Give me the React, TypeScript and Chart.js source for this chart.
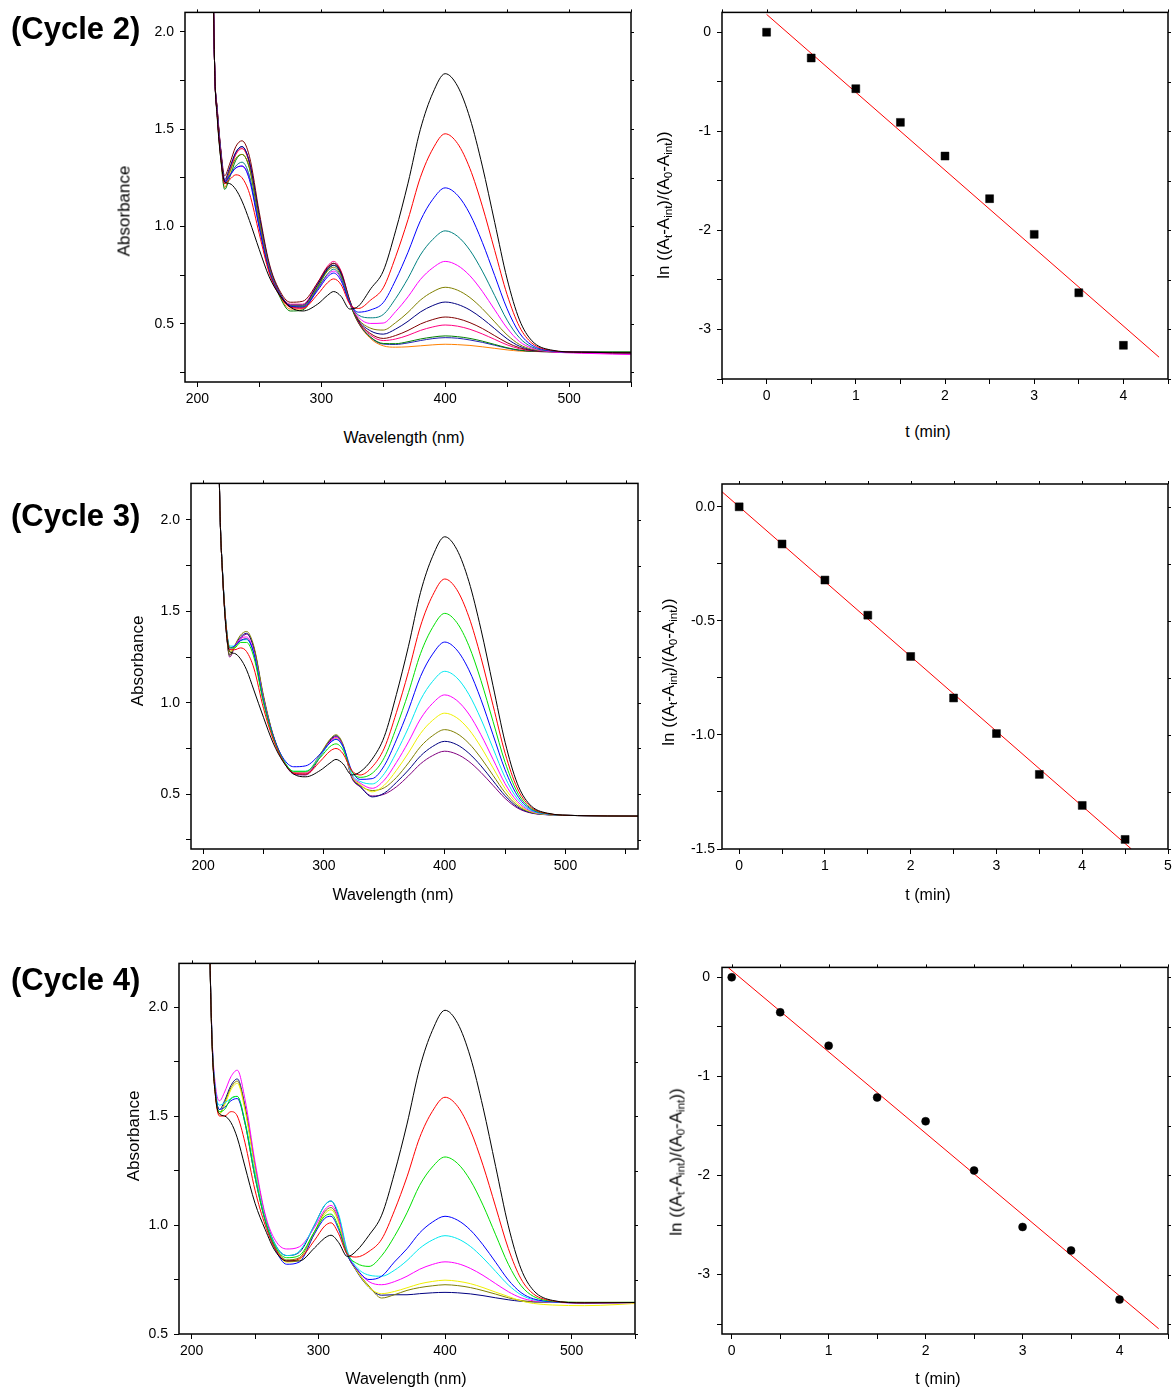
import React, { useEffect, useRef } from 'react';
import { Chart, registerables } from 'chart.js';

Chart.register(...registerables);

const FONT = '"Liberation Sans", Arial, Helvetica, sans-serif';

// ---------- Spectra data (wavelength grid shared by all cycles) ----------
const wavelengths = [211, 214, 216, 219, 222, 226, 231, 236, 242, 250, 258, 266, 275, 285, 297, 305, 310, 316, 323, 330, 340, 350, 360, 370, 380, 390, 400, 410, 420, 430, 440, 450, 460, 470, 485, 510, 560];

// Cycle 2 absorbance curves
const c2Black = [3.0, 1.8, 1.56, 1.34, 1.23, 1.22, 1.19, 1.13, 1.03, 0.88, 0.74, 0.65, 0.585, 0.565, 0.60, 0.645, 0.665, 0.64, 0.575, 0.59, 0.68, 0.77, 0.977, 1.222, 1.499, 1.685, 1.785, 1.721, 1.556, 1.31, 1.02, 0.73, 0.519, 0.412, 0.365, 0.353, 0.35];
const c2Red = [3.0, 1.8, 1.57, 1.35, 1.22, 1.24, 1.265, 1.25, 1.17, 0.96, 0.76, 0.65, 0.585, 0.58, 0.65, 0.71, 0.73, 0.70, 0.60, 0.578, 0.622, 0.684, 0.844, 1.035, 1.252, 1.398, 1.476, 1.426, 1.297, 1.104, 0.876, 0.649, 0.484, 0.40, 0.363, 0.353, 0.35];
const c2Blue = [3.0, 1.8, 1.58, 1.36, 1.23, 1.26, 1.30, 1.31, 1.24, 0.99, 0.77, 0.655, 0.59, 0.585, 0.67, 0.74, 0.76, 0.72, 0.605, 0.559, 0.571, 0.608, 0.724, 0.867, 1.029, 1.139, 1.198, 1.16, 1.063, 0.918, 0.747, 0.576, 0.452, 0.389, 0.361, 0.353, 0.35];
const c2Teal = [3.0, 1.8, 1.58, 1.36, 1.22, 1.26, 1.31, 1.33, 1.26, 1.0, 0.775, 0.655, 0.59, 0.585, 0.68, 0.755, 0.78, 0.735, 0.61, 0.544, 0.53, 0.547, 0.629, 0.733, 0.853, 0.933, 0.977, 0.949, 0.877, 0.77, 0.644, 0.518, 0.427, 0.38, 0.359, 0.353, 0.35];
const c2Magenta = [3.0, 1.8, 1.58, 1.36, 1.22, 1.26, 1.30, 1.31, 1.25, 1.0, 0.775, 0.655, 0.585, 0.58, 0.675, 0.75, 0.77, 0.73, 0.605, 0.533, 0.501, 0.503, 0.562, 0.638, 0.727, 0.787, 0.82, 0.799, 0.746, 0.666, 0.571, 0.477, 0.408, 0.374, 0.356, 0.348, 0.34];
const c2Olive = [3.0, 1.8, 1.59, 1.37, 1.22, 1.28, 1.35, 1.37, 1.30, 1.03, 0.79, 0.66, 0.59, 0.59, 0.69, 0.77, 0.79, 0.745, 0.61, 0.523, 0.476, 0.467, 0.505, 0.558, 0.621, 0.664, 0.687, 0.672, 0.634, 0.577, 0.509, 0.442, 0.393, 0.368, 0.357, 0.353, 0.35];
const c2Navy = [3.0, 1.8, 1.60, 1.38, 1.24, 1.30, 1.38, 1.41, 1.33, 1.05, 0.80, 0.665, 0.595, 0.595, 0.70, 0.78, 0.80, 0.755, 0.615, 0.518, 0.462, 0.446, 0.472, 0.512, 0.56, 0.593, 0.611, 0.599, 0.57, 0.526, 0.474, 0.422, 0.384, 0.365, 0.357, 0.353, 0.35];
const c2Maroon = [3.0, 1.8, 1.61, 1.39, 1.26, 1.32, 1.41, 1.44, 1.36, 1.07, 0.81, 0.675, 0.61, 0.615, 0.71, 0.79, 0.81, 0.765, 0.62, 0.513, 0.448, 0.424, 0.439, 0.465, 0.498, 0.521, 0.534, 0.526, 0.505, 0.475, 0.438, 0.402, 0.376, 0.362, 0.356, 0.353, 0.35];
const c2Pink = [3.0, 1.8, 1.60, 1.38, 1.23, 1.29, 1.37, 1.40, 1.33, 1.05, 0.80, 0.665, 0.60, 0.60, 0.71, 0.795, 0.82, 0.77, 0.62, 0.51, 0.44, 0.413, 0.421, 0.44, 0.465, 0.483, 0.493, 0.487, 0.471, 0.447, 0.419, 0.391, 0.371, 0.361, 0.356, 0.35, 0.343];
const c2Green = [3.0, 1.8, 1.57, 1.34, 1.19, 1.25, 1.34, 1.37, 1.30, 1.02, 0.78, 0.645, 0.565, 0.57, 0.685, 0.775, 0.80, 0.755, 0.605, 0.506, 0.43, 0.398, 0.397, 0.407, 0.421, 0.431, 0.437, 0.433, 0.424, 0.41, 0.393, 0.376, 0.364, 0.358, 0.356, 0.355, 0.355];
const c2DarkBlue = [3.0, 1.8, 1.60, 1.38, 1.23, 1.29, 1.38, 1.41, 1.33, 1.04, 0.795, 0.66, 0.59, 0.59, 0.70, 0.785, 0.81, 0.76, 0.61, 0.505, 0.428, 0.395, 0.393, 0.401, 0.413, 0.423, 0.428, 0.425, 0.416, 0.404, 0.389, 0.374, 0.363, 0.358, 0.355, 0.353, 0.352];
const c2Orange = [3.0, 1.8, 1.58, 1.35, 1.20, 1.27, 1.37, 1.40, 1.32, 1.03, 0.785, 0.65, 0.575, 0.575, 0.69, 0.78, 0.81, 0.76, 0.605, 0.503, 0.422, 0.386, 0.379, 0.381, 0.386, 0.391, 0.394, 0.392, 0.388, 0.381, 0.373, 0.365, 0.359, 0.357, 0.355, 0.353, 0.35];

// Cycle 3 absorbance curves
const c3Black = [3.2, 2.05, 1.72, 1.40, 1.28, 1.27, 1.24, 1.18, 1.07, 0.92, 0.78, 0.68, 0.61, 0.595, 0.63, 0.67, 0.69, 0.665, 0.605, 0.622, 0.692, 0.815, 1.045, 1.309, 1.604, 1.801, 1.908, 1.839, 1.664, 1.402, 1.093, 0.784, 0.56, 0.446, 0.396, 0.383, 0.38];
const c3Red = [3.2, 2.05, 1.72, 1.42, 1.29, 1.29, 1.30, 1.28, 1.19, 0.97, 0.80, 0.685, 0.615, 0.61, 0.68, 0.735, 0.75, 0.72, 0.63, 0.605, 0.649, 0.752, 0.946, 1.17, 1.42, 1.587, 1.677, 1.619, 1.47, 1.248, 0.986, 0.724, 0.534, 0.437, 0.394, 0.383, 0.38];
const c3Green = [3.2, 2.05, 1.73, 1.43, 1.30, 1.30, 1.33, 1.33, 1.25, 1.0, 0.81, 0.69, 0.625, 0.625, 0.70, 0.76, 0.775, 0.74, 0.625, 0.592, 0.614, 0.70, 0.865, 1.056, 1.269, 1.412, 1.489, 1.439, 1.312, 1.122, 0.898, 0.674, 0.512, 0.429, 0.393, 0.383, 0.38];
const c3Blue = [3.2, 2.05, 1.73, 1.43, 1.30, 1.31, 1.34, 1.35, 1.27, 1.01, 0.82, 0.70, 0.65, 0.655, 0.72, 0.78, 0.80, 0.76, 0.63, 0.581, 0.585, 0.656, 0.797, 0.961, 1.144, 1.266, 1.332, 1.289, 1.18, 1.018, 0.825, 0.633, 0.494, 0.423, 0.392, 0.383, 0.38];
const c3Cyan = [3.2, 2.05, 1.73, 1.43, 1.31, 1.31, 1.34, 1.345, 1.27, 1.01, 0.815, 0.695, 0.625, 0.625, 0.71, 0.78, 0.80, 0.755, 0.61, 0.57, 0.556, 0.612, 0.728, 0.864, 1.016, 1.117, 1.172, 1.137, 1.046, 0.911, 0.751, 0.591, 0.476, 0.416, 0.39, 0.383, 0.38];
const c3Magenta = [3.2, 2.05, 1.73, 1.43, 1.29, 1.31, 1.35, 1.36, 1.28, 1.02, 0.815, 0.69, 0.615, 0.615, 0.71, 0.785, 0.81, 0.76, 0.605, 0.561, 0.532, 0.577, 0.673, 0.786, 0.912, 0.997, 1.043, 1.013, 0.938, 0.825, 0.691, 0.557, 0.461, 0.411, 0.39, 0.383, 0.38];
const c3Yellow = [3.2, 2.05, 1.72, 1.42, 1.28, 1.30, 1.34, 1.35, 1.27, 1.01, 0.81, 0.69, 0.615, 0.615, 0.71, 0.785, 0.805, 0.755, 0.60, 0.554, 0.513, 0.549, 0.63, 0.726, 0.832, 0.904, 0.943, 0.918, 0.854, 0.758, 0.644, 0.531, 0.449, 0.407, 0.389, 0.383, 0.38];
const c3Olive = [3.2, 2.05, 1.72, 1.41, 1.26, 1.31, 1.37, 1.39, 1.31, 1.04, 0.825, 0.695, 0.62, 0.62, 0.72, 0.80, 0.825, 0.77, 0.60, 0.548, 0.52, 0.535, 0.591, 0.671, 0.76, 0.82, 0.853, 0.832, 0.778, 0.698, 0.603, 0.508, 0.439, 0.404, 0.388, 0.383, 0.38];
const c3Navy = [3.2, 2.05, 1.72, 1.41, 1.26, 1.31, 1.36, 1.38, 1.30, 1.03, 0.82, 0.69, 0.615, 0.61, 0.71, 0.795, 0.82, 0.765, 0.595, 0.543, 0.485, 0.506, 0.564, 0.632, 0.709, 0.761, 0.789, 0.771, 0.724, 0.655, 0.573, 0.491, 0.431, 0.401, 0.388, 0.383, 0.38];
const c3Purple = [3.2, 2.05, 1.72, 1.41, 1.25, 1.30, 1.35, 1.375, 1.30, 1.03, 0.82, 0.69, 0.61, 0.605, 0.705, 0.79, 0.815, 0.76, 0.59, 0.54, 0.49, 0.50, 0.54, 0.60, 0.666, 0.711, 0.735, 0.719, 0.679, 0.619, 0.548, 0.477, 0.425, 0.399, 0.387, 0.383, 0.38];

// Cycle 4 absorbance curves
const c4Black = [3.4, 2.35, 1.85, 1.58, 1.51, 1.50, 1.47, 1.40, 1.27, 1.10, 0.98, 0.88, 0.835, 0.835, 0.895, 0.94, 0.953, 0.92, 0.855, 0.881, 0.953, 1.045, 1.236, 1.463, 1.72, 1.892, 1.985, 1.925, 1.771, 1.54, 1.268, 0.996, 0.799, 0.699, 0.654, 0.643, 0.645];
const c4Red = [3.4, 2.35, 1.85, 1.58, 1.50, 1.50, 1.52, 1.50, 1.38, 1.16, 1.0, 0.89, 0.835, 0.845, 0.93, 0.995, 1.01, 0.96, 0.865, 0.853, 0.879, 0.935, 1.065, 1.221, 1.401, 1.521, 1.586, 1.544, 1.435, 1.274, 1.083, 0.892, 0.753, 0.683, 0.652, 0.643, 0.645];
const c4Green = [3.4, 2.35, 1.86, 1.59, 1.52, 1.53, 1.58, 1.59, 1.47, 1.22, 1.02, 0.90, 0.85, 0.86, 0.97, 1.04, 1.05, 0.99, 0.865, 0.825, 0.81, 0.859, 0.947, 1.056, 1.182, 1.266, 1.312, 1.282, 1.205, 1.091, 0.955, 0.82, 0.722, 0.672, 0.65, 0.645, 0.645];
const c4Blue = [3.4, 2.35, 1.86, 1.60, 1.53, 1.54, 1.57, 1.58, 1.47, 1.22, 1.02, 0.89, 0.82, 0.83, 0.96, 1.03, 1.04, 0.98, 0.86, 0.80, 0.75, 0.765, 0.83, 0.891, 0.964, 1.013, 1.04, 1.022, 0.977, 0.909, 0.829, 0.748, 0.69, 0.661, 0.648, 0.643, 0.645];
const c4Cyan = [3.4, 2.35, 1.87, 1.61, 1.55, 1.56, 1.58, 1.59, 1.48, 1.24, 1.03, 0.91, 0.86, 0.88, 1.0, 1.09, 1.11, 1.05, 0.88, 0.808, 0.77, 0.765, 0.792, 0.837, 0.893, 0.931, 0.951, 0.937, 0.902, 0.849, 0.787, 0.725, 0.68, 0.657, 0.647, 0.643, 0.645];
const c4Magenta = [3.4, 2.35, 1.88, 1.63, 1.57, 1.61, 1.68, 1.71, 1.58, 1.29, 1.05, 0.93, 0.89, 0.90, 0.99, 1.07, 1.09, 1.03, 0.87, 0.80, 0.74, 0.726, 0.74, 0.765, 0.797, 0.819, 0.831, 0.823, 0.801, 0.769, 0.731, 0.694, 0.666, 0.652, 0.646, 0.641, 0.645];
const c4Yellow = [3.4, 2.35, 1.86, 1.59, 1.51, 1.55, 1.62, 1.65, 1.53, 1.26, 1.03, 0.89, 0.83, 0.84, 0.96, 1.05, 1.07, 1.01, 0.865, 0.794, 0.715, 0.685, 0.695, 0.712, 0.73, 0.741, 0.747, 0.742, 0.731, 0.713, 0.692, 0.672, 0.652, 0.64, 0.633, 0.63, 0.643];
const c4Olive = [3.4, 2.35, 1.86, 1.59, 1.51, 1.56, 1.63, 1.66, 1.54, 1.27, 1.04, 0.90, 0.84, 0.85, 0.97, 1.06, 1.08, 1.02, 0.865, 0.793, 0.72, 0.665, 0.68, 0.70, 0.713, 0.721, 0.726, 0.722, 0.713, 0.699, 0.683, 0.666, 0.654, 0.648, 0.646, 0.645, 0.645];
const c4Navy = [3.4, 2.35, 1.87, 1.60, 1.53, 1.57, 1.64, 1.67, 1.55, 1.27, 1.04, 0.91, 0.86, 0.875, 1.0, 1.09, 1.11, 1.04, 0.87, 0.79, 0.714, 0.678, 0.68, 0.68, 0.685, 0.689, 0.691, 0.689, 0.684, 0.676, 0.666, 0.657, 0.65, 0.647, 0.646, 0.644, 0.645];

const cycle2Curves = [c2Black, c2Red, c2Blue, c2Teal, c2Magenta, c2Olive, c2Navy, c2Maroon, c2Pink, c2Green, c2DarkBlue, c2Orange];
const cycle3Curves = [c3Black, c3Red, c3Green, c3Blue, c3Cyan, c3Magenta, c3Yellow, c3Olive, c3Navy, c3Purple];
const cycle4Curves = [c4Black, c4Red, c4Green, c4Blue, c4Cyan, c4Magenta, c4Yellow, c4Olive, c4Navy];

const cycle2Colors = ['#000000', '#ff0000', '#0000ff', '#008080', '#ff00ff', '#808000', '#000080', '#800000', '#ff0080', '#008000', '#2020b0', '#ff8000'];
const cycle3Colors = ['#000000', '#ff0000', '#00e000', '#0000ff', '#00e8f0', '#ff00ff', '#f0f000', '#808000', '#000080', '#800080'];
const cycle4Colors = ['#000000', '#ff0000', '#00e000', '#0000ff', '#00e8f0', '#ff00ff', '#f0f000', '#808000', '#000080'];

// ---------- Kinetics data ----------
const k2Time = [0, 0.5, 1, 1.5, 2, 2.5, 3, 3.5, 4];
const k2LnRatio = [0, -0.26, -0.57, -0.91, -1.25, -1.68, -2.04, -2.63, -3.16];
const k2FitTime = [0, 4.4];
const k2FitValue = [0.18, -3.28];

const k3Time = [0, 0.5, 1, 1.5, 2, 2.5, 3, 3.5, 4, 4.5];
const k3LnRatio = [0, -0.163, -0.321, -0.475, -0.656, -0.838, -0.994, -1.173, -1.309, -1.458];
const k3FitTime = [-0.2, 4.573];
const k3FitValue = [0.066, -1.5];

const k4Time = [0, 0.5, 1, 1.5, 2, 2.5, 3, 3.5, 4];
const k4LnRatio = [0, -0.353, -0.69, -1.213, -1.453, -1.95, -2.52, -2.757, -3.253];
const k4FitTime = [-0.035, 4.404];
const k4FitValue = [0.097, -3.547];

// ---------- Layout ----------
type Frame = { L: number; T: number; R: number; B: number };
type AxisSpec = { min: number; max: number; step: number; major: number; decimals: number };

const PAD_T = 12;
const PAD_R = 12;
const Y_W = 70;
const X_H = 44;

const framePlugin = {
  id: 'frameBox',
  afterDraw(chart: any) {
    const { ctx, chartArea: a, scales } = chart;
    ctx.save();
    ctx.strokeStyle = '#000';
    ctx.lineWidth = 1.5;
    ctx.strokeRect(a.left, a.top, a.right - a.left, a.bottom - a.top);
    ctx.lineWidth = 1;
    ctx.beginPath();
    for (const t of scales.x.ticks) {
      const px = Math.round(scales.x.getPixelForValue(t.value)) + 0.5;
      ctx.moveTo(px, a.top);
      ctx.lineTo(px, a.top - 3);
    }
    for (const t of scales.y.ticks) {
      const py = Math.round(scales.y.getPixelForValue(t.value)) + 0.5;
      ctx.moveTo(a.right, py);
      ctx.lineTo(a.right + 3, py);
    }
    ctx.stroke();
    ctx.restore();
  },
};

function formatter(a: AxisSpec) {
  return (v: number | string) => {
    const n = Number(v);
    const r = n / a.major;
    if (Math.abs(r - Math.round(r)) > 1e-6) return '';
    let s = (Math.round(r) * a.major).toFixed(a.decimals);
    if (/^-0(\.0+)?$/.test(s)) s = s.slice(1);
    return s;
  };
}

function axis(a: AxisSpec, pad: number) {
  return {
    type: 'linear' as const,
    min: a.min,
    max: a.max,
    afterBuildTicks: (s: any) => {
      const out: { value: number }[] = [];
      const first = Math.ceil(a.min / a.step - 1e-9);
      const last = Math.floor(a.max / a.step + 1e-9);
      for (let k = first; k <= last; k++) out.push({ value: Number((k * a.step).toFixed(6)) });
      s.ticks = out;
    },
    grid: { display: true, drawOnChartArea: false, drawTicks: true, tickLength: 5, color: '#000', lineWidth: 1 },
    border: { display: false },
    ticks: {
      stepSize: a.step,
      autoSkip: false,
      maxRotation: 0,
      minRotation: 0,
      maxTicksLimit: 60,
      color: '#000',
      font: { family: FONT, size: 14 },
      padding: pad,
      callback: formatter(a),
    },
  };
}

function buildOptions(x: AxisSpec, y: AxisSpec, yPad: number) {
  return {
    responsive: true,
    maintainAspectRatio: false,
    animation: false as const,
    events: [] as any[],
    layout: { padding: { top: PAD_T, right: PAD_R, left: 0, bottom: 0 } },
    plugins: { legend: { display: false }, tooltip: { enabled: false } },
    scales: {
      x: { ...axis(x, 4), position: 'bottom' as const, afterFit: (s: any) => { s.height = X_H; } },
      y: { ...axis(y, yPad), position: 'left' as const, afterFit: (s: any) => { s.width = Y_W; } },
    },
  };
}

function spectrumConfig(curves: number[][], colors: string[], x: AxisSpec, y: AxisSpec) {
  return {
    type: 'scatter' as const,
    data: {
      datasets: curves.map((vals, k) => ({
        data: wavelengths.map((w, i) => ({ x: w, y: vals[i] })),
        showLine: true,
        borderColor: colors[k],
        backgroundColor: colors[k],
        borderWidth: 1,
        pointRadius: 0,
        cubicInterpolationMode: 'monotone' as const,
      })),
    },
    options: buildOptions(x, y, 6),
    plugins: [framePlugin],
  };
}

function kineticsConfig(t: number[], v: number[], ft: number[], fv: number[], marker: string, radius: number, x: AxisSpec, y: AxisSpec, yPad: number) {
  return {
    type: 'scatter' as const,
    data: {
      datasets: [
        {
          data: t.map((tt, i) => ({ x: tt, y: v[i] })),
          pointStyle: marker,
          pointRadius: radius,
          backgroundColor: '#000',
          borderColor: '#000',
          borderWidth: 0.5,
          showLine: false,
        },
        {
          data: ft.map((tt, i) => ({ x: tt, y: fv[i] })),
          showLine: true,
          borderColor: '#ff0000',
          borderWidth: 1,
          pointRadius: 0,
        },
      ],
    },
    options: buildOptions(x, y, yPad),
    plugins: [framePlugin],
  };
}

function ChartBox({ frame, make }: { frame: Frame; make: () => any }) {
  const ref = useRef<HTMLCanvasElement>(null);
  useEffect(() => {
    const chart = new Chart(ref.current as HTMLCanvasElement, make());
    return () => chart.destroy();
  }, []);
  return (
    <div
      style={{
        position: 'absolute',
        left: frame.L - Y_W,
        top: frame.T - PAD_T,
        width: frame.R - frame.L + Y_W + PAD_R,
        height: frame.B - frame.T + PAD_T + X_H,
      }}
    >
      <canvas ref={ref} />
    </div>
  );
}

const specX2: AxisSpec = { min: 190, max: 550, step: 50, major: 100, decimals: 0 };
const specY2: AxisSpec = { min: 0.2, max: 2.1, step: 0.25, major: 0.5, decimals: 1 };
const specX3: AxisSpec = { min: 190, max: 560, step: 50, major: 100, decimals: 0 };
const specY3: AxisSpec = { min: 0.2, max: 2.2, step: 0.25, major: 0.5, decimals: 1 };
const specX4: AxisSpec = { min: 190, max: 550, step: 50, major: 100, decimals: 0 };
const specY4: AxisSpec = { min: 0.5, max: 2.2, step: 0.25, major: 0.5, decimals: 1 };

const kinX2: AxisSpec = { min: -0.5, max: 4.5, step: 0.5, major: 1, decimals: 0 };
const kinY2: AxisSpec = { min: -3.5, max: 0.2, step: 0.5, major: 1, decimals: 0 };
const kinX3: AxisSpec = { min: -0.2, max: 5, step: 0.5, major: 1, decimals: 0 };
const kinY3: AxisSpec = { min: -1.5, max: 0.1, step: 0.25, major: 0.5, decimals: 1 };
const kinX4: AxisSpec = { min: -0.1, max: 4.5, step: 0.5, major: 1, decimals: 0 };
const kinY4: AxisSpec = { min: -3.6, max: 0.1, step: 0.5, major: 1, decimals: 0 };

const frames: Record<string, Frame> = {
  s2: { L: 185, T: 10, R: 631, B: 382 },
  k2: { L: 722, T: 10, R: 1168, B: 379 },
  s3: { L: 191, T: 481, R: 638, B: 849 },
  k3: { L: 722, T: 484, R: 1168, B: 849 },
  s4: { L: 179, T: 961, R: 635, B: 1334 },
  k4: { L: 722, T: 964, R: 1168, B: 1334 },
};

const textBase: React.CSSProperties = {
  position: 'absolute',
  fontFamily: FONT,
  color: '#000',
  whiteSpace: 'nowrap',
  lineHeight: 1,
};

function HLabel({ x, y, size, children }: { x: number; y: number; size: number; children: React.ReactNode }) {
  return <div style={{ ...textBase, left: x, top: y, fontSize: size, transform: 'translate(-50%, -50%)' }}>{children}</div>;
}

function VLabel({ x, y, size, children }: { x: number; y: number; size: number; children: React.ReactNode }) {
  return <div style={{ ...textBase, left: x, top: y, fontSize: size, transform: 'translate(-50%, -50%) rotate(-90deg)' }}>{children}</div>;
}

const subStyle: React.CSSProperties = { fontSize: '0.68em', verticalAlign: '-0.3em', lineHeight: 0 };

function LnLabel() {
  return (
    <span>
      ln ((A<span style={subStyle}>t</span>-A<span style={subStyle}>int</span>)/(A<span style={subStyle}>0</span>-A<span style={subStyle}>int</span>))
    </span>
  );
}

function CycleLabel({ y, children }: { y: number; children: React.ReactNode }) {
  return <div style={{ ...textBase, left: 11, top: y, fontSize: 31, fontWeight: 'bold', transform: 'translate(0, -50%)' }}>{children}</div>;
}

export default function App() {
  return (
    <div style={{ position: 'absolute', left: 0, top: 0, width: 1173, height: 1390, background: '#fff', overflow: 'hidden' }}>
      <ChartBox frame={frames.s2} make={() => spectrumConfig(cycle2Curves, cycle2Colors, specX2, specY2)} />
      <ChartBox frame={frames.k2} make={() => kineticsConfig(k2Time, k2LnRatio, k2FitTime, k2FitValue, 'rect', 5.6, kinX2, kinY2, 6)} />
      <ChartBox frame={frames.s3} make={() => spectrumConfig(cycle3Curves, cycle3Colors, specX3, specY3)} />
      <ChartBox frame={frames.k3} make={() => kineticsConfig(k3Time, k3LnRatio, k3FitTime, k3FitValue, 'rect', 5.6, kinX3, kinY3, 2)} />
      <ChartBox frame={frames.s4} make={() => spectrumConfig(cycle4Curves, cycle4Colors, specX4, specY4)} />
      <ChartBox frame={frames.k4} make={() => kineticsConfig(k4Time, k4LnRatio, k4FitTime, k4FitValue, 'circle', 4, kinX4, kinY4, 7)} />

      <CycleLabel y={28}>(Cycle 2)</CycleLabel>
      <CycleLabel y={515}>(Cycle 3)</CycleLabel>
      <CycleLabel y={979}>(Cycle 4)</CycleLabel>

      <HLabel x={404} y={438} size={16}>Wavelength (nm)</HLabel>
      <HLabel x={393} y={895} size={16}>Wavelength (nm)</HLabel>
      <HLabel x={406} y={1379} size={16}>Wavelength (nm)</HLabel>
      <HLabel x={928} y={432} size={16}>t (min)</HLabel>
      <HLabel x={928} y={895} size={16}>t (min)</HLabel>
      <HLabel x={938} y={1379} size={16}>t (min)</HLabel>

      <VLabel x={124} y={211} size={17}>Absorbance</VLabel>
      <VLabel x={137} y={661} size={17}>Absorbance</VLabel>
      <VLabel x={133} y={1136} size={17}>Absorbance</VLabel>

      <VLabel x={663} y={205} size={17}><LnLabel /></VLabel>
      <VLabel x={668} y={672} size={17}><LnLabel /></VLabel>
      <VLabel x={676} y={1162} size={17}><LnLabel /></VLabel>
    </div>
  );
}
